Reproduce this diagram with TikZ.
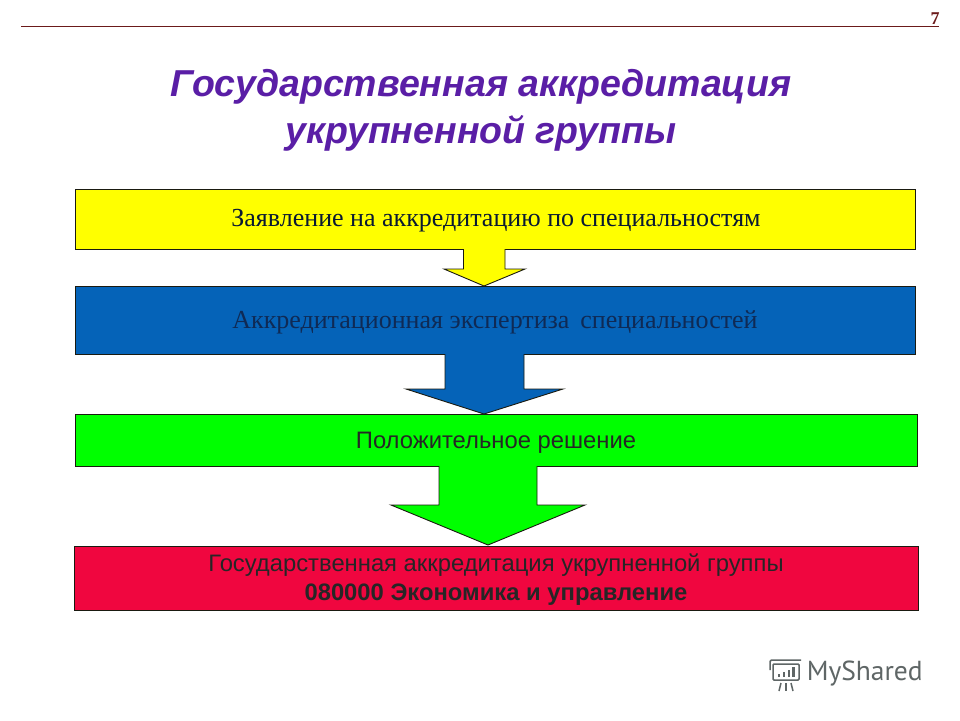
\documentclass[tikz,border=0pt]{standalone}
\usepackage{fontspec}
\setmainfont{Liberation Sans}
\newfontfamily\serifcyr{Liberation Serif}
\newfontfamily\logofont{PT Sans}
\definecolor{ttl}{HTML}{5A1EA6}
\definecolor{ylw}{HTML}{FFFF00}
\definecolor{blu}{HTML}{0563B8}
\definecolor{grn}{HTML}{00FF00}
\definecolor{rd}{HTML}{F0063F}
\definecolor{rulec}{HTML}{6B1A1A}
\definecolor{edgec}{HTML}{1A1A10}
\definecolor{bluetxt}{HTML}{0F2A55}
\definecolor{logoc}{HTML}{5F6666}
\tikzset{
  x=1pt,y=-1pt,
  band/.style={draw=edgec,line width=0.9pt,anchor=north west,inner sep=0pt,outer sep=0pt},
  blockarrow/.style={draw=edgec,line width=0.9pt,line join=miter},
  titletext/.style={font=\fontsize{37.5}{47}\selectfont\bfseries\itshape,text=ttl,align=center},
  serifband/.style={font=\serifcyr\fontsize{26}{30}\selectfont},
  sansband/.style={font=\fontsize{23.8}{29}\selectfont,align=center},
  logoline/.style={draw=logoc,line width=1.5pt}
}
\begin{document}
\begin{tikzpicture}
\useasboundingbox (0,0) rectangle (960,720);
\fill[white] (0,0) rectangle (960,720);
\coordinate (ruleL) at (21,26.5);
\coordinate (ruleR) at (939,26.5);
\draw[rulec,line width=0.9pt] (ruleL) -- (ruleR);
\node[font=\serifcyr\bfseries\fontsize{18}{20}\selectfont,text=rulec] (pagenum) at (935,19) {7};
\node[titletext] (title) at (481,110) {Государственная аккредитация\\укрупненной группы};
\node[band,fill=ylw,minimum width=840pt,minimum height=60pt] (b1) at (75,189) {};
\node[band,fill=blu,minimum width=840pt,minimum height=68pt] (b2) at (75,286) {};
\node[band,fill=grn,minimum width=842pt,minimum height=52pt] (b3) at (75,414) {};
\node[band,fill=rd,minimum width=844pt,minimum height=64pt] (b4) at (74,546) {};
\draw[blockarrow,fill=ylw] (463.5,249) -- (463.5,269) -- (444,269) -- (484,286) -- (525,269) -- (505,269) -- (505,249);
\draw[blockarrow,fill=blu] (445,354) -- (445,389) -- (406,389) -- (484,414) -- (563,389) -- (524,389) -- (524,354);
\draw[blockarrow,fill=grn] (439,466) -- (439,505) -- (391,505) -- (488,545) -- (585,505) -- (537,505) -- (537,466);
\node[serifband,text=bluetxt!60!black] (t1) at (496,220.5) {Заявление на аккредитацию по специальностям};
\node[serifband,text=bluetxt] (t2) at (495,322) {Аккредитационная экспертиза\, специальностей};
\node[sansband,text=black!85] (t3) at (496,443) {Положительное решение};
\node[sansband,text=black!85] (t4) at (496,580) {Государственная аккредитация укрупненной группы\\ {\bfseries 080000 Экономика и управление}};
% logo
\node[logoline,draw=none,anchor=west,text=logoc,font=\logofont\fontsize{27.5}{30}\selectfont,inner sep=0pt] (logo) at (806,674) {MyShared};
\draw[logoline,rounded corners=1pt] (773,680) -- (773,664) -- (799,664) -- (799,680) -- cycle;
\draw[logoline,rounded corners=1.5pt] (770,670) -- (770,660) -- (801,660);
\draw[logoline] (781,683) -- (779,691);
\draw[logoline] (786,683) -- (786,691);
\draw[logoline] (791,683) -- (793,691);
\fill[logoc] (777.5,674) rectangle (780,677);
\fill[logoc] (782.5,672) rectangle (785,677);
\fill[logoc] (787.5,670) rectangle (790,677);
\fill[logoc] (792,667) rectangle (795,677);
\end{tikzpicture}
\end{document}
